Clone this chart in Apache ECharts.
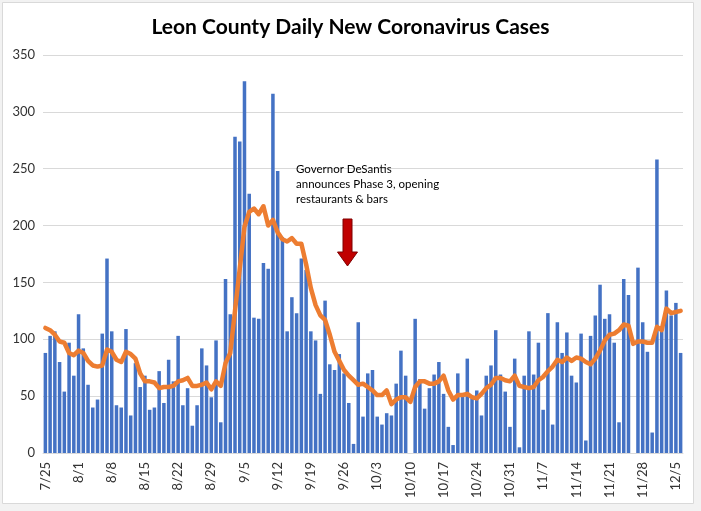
<!DOCTYPE html>
<html>
<head>
<meta charset="utf-8">
<script src="https://cdn.jsdelivr.net/npm/echarts@6/dist/echarts.min.js"></script>
<style>
html,body{margin:0;padding:0;background:#f2f2f2;}
#chart{width:701px;height:511px;}
</style>
</head>
<body>
<div id="chart"></div>
<script>
// Daily new cases, 7/25 .. 12/6 (null = no report)
const dailyCases = [
  88,103,107,80,54,97,68,122,92,60,
  40,47,105,171,107,42,40,109,33,79,
  58,68,38,40,72,44,82,63,103,42,
  57,24,42,92,77,49,99,27,153,122,
  278,274,327,228,119,118,167,162,316,248,
  190,107,137,123,171,161,107,99,52,134,
  78,73,87,70,44,8,115,32,70,73,
  32,25,35,33,61,90,68,null,118,65,
  39,57,69,80,52,23,7,70,51,83,
  48,55,33,68,77,108,69,54,23,83,
  5,68,107,69,97,38,123,25,115,88,
  106,68,62,105,11,103,121,148,118,122,
  97,27,153,139,null,163,115,89,18,258,
  107,143,121,132,88
];
// 7-day average line
const sevenDayAvg = [
  110,108,104,98,97,88,86,90,88,81,
  77,76,77,91,89,82,80,89,87,83,
  70,63,63,62,57,58,58,59,63,64,
  66,59,59,60,62,56,63,59,79,88,
  125,162,199,212,215,210,217,200,205,194,
  188,186,189,184,184,166,145,130,121,117,
  104,89,81,73,68,64,60,61,58,55,
  51,51,55,43,47,49,49,45,58,63,
  63,61,61,63,68,55,47,51,51,52,
  49,48,52,57,60,66,66,64,63,68,
  59,58,57,58,64,67,72,76,82,80,
  84,81,84,83,80,78,83,90,99,104,
  105,108,113,112,96,98,98,97,97,111,
  108,127,123,124,125
];
const startMonth = 7, startDay = 25;
const monthLengths = {7:31,8:31,9:30,10:31,11:30,12:31};
const dateLabels = [];
(function(){
  let m = startMonth, d = startDay;
  for (let i = 0; i < dailyCases.length; i++) {
    dateLabels.push(m + '/' + d);
    d++;
    if (d > monthLengths[m]) { d = 1; m++; }
  }
})();
const yTicks = [0,50,100,150,200,250,300,350];
const titleText = 'Leon County Daily New Coronavirus Cases';
const noteLines = ['Governor DeSantis', 'announces Phase 3, opening', 'restaurants & bars'];

const chart = echarts.init(document.getElementById('chart'), null, {renderer:'canvas'});
const fontFam = 'Lato, "Open Sans", sans-serif';
chart.setOption({
  animation: false,
  backgroundColor: 'transparent',
  title: {
    text: titleText,
    left: 'center',
    top: 12,
    textStyle: {fontFamily: fontFam, fontWeight: 'bold', fontSize: 21, color: '#000'}
  },
  grid: {left: 43, right: 18, top: 55, bottom: 58},
  xAxis: {
    type: 'category',
    data: dateLabels,
    boundaryGap: true,
    axisLine: {show: true, lineStyle: {color: '#d9d9d9'}},
    axisTick: {show: false},
    axisLabel: {
      interval: 6,
      rotate: 90,
      fontFamily: fontFam,
      fontSize: 13,
      color: '#333',
      margin: 9
    }
  },
  yAxis: {
    type: 'value',
    min: yTicks[0],
    max: yTicks[yTicks.length-1],
    interval: 50,
    axisLine: {show: false},
    axisTick: {show: false},
    splitLine: {lineStyle: {color: '#d9d9d9', width: 1}},
    axisLabel: {fontFamily: fontFam, fontSize: 13, color: '#333', margin: 8}
  },
  series: [
    {
      type: 'bar',
      data: dailyCases,
      barCategoryGap: '26%',
      itemStyle: {color: '#4472C4'},
      z: 2
    },
    {
      type: 'line',
      data: sevenDayAvg,
      showSymbol: false,
      symbol: 'none',
      lineStyle: {color: '#ED7D31', width: 4.5, join: 'round', cap: 'round'},
      z: 3
    }
  ],
  graphic: [
    {type: 'rect', shape: {x: 2.5, y: 2.5, width: 691, height: 501},
     style: {fill: '#fff', stroke: '#d9d9d9', lineWidth: 1}, z: -10, silent: true},
    {type: 'text', left: 296, top: 162, z: 10,
     style: {text: noteLines.join('\n'), fontFamily: fontFam, fontSize: 11.5, lineHeight: 15, fill: '#000'}},
    {type: 'polygon', z: 10,
     shape: {points: [[343,219],[352,219],[352,252],[357.5,252],[347.5,266],[337.5,252],[343,252]]},
     style: {fill: '#C00000', stroke: '#7f0000', lineWidth: 1}}
  ]
});
</script>
</body>
</html>
